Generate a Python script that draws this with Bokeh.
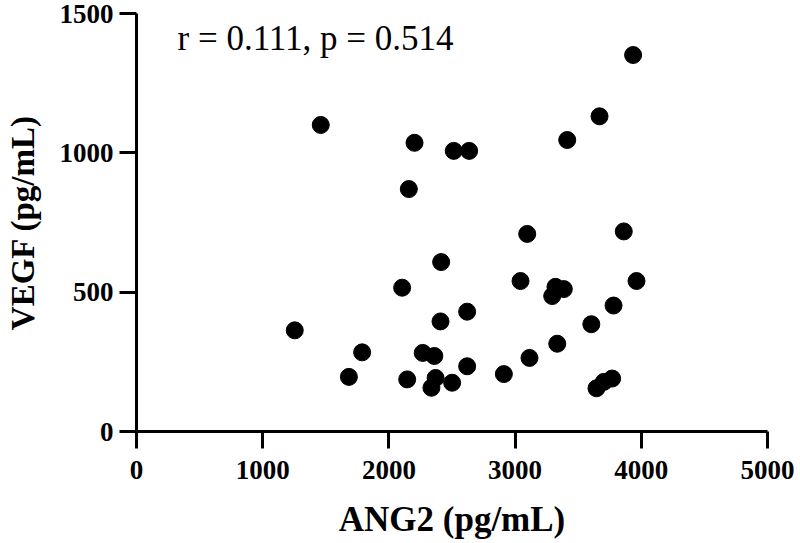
from bokeh.plotting import figure
from bokeh.models import Range1d, Label, FixedTicker, ColumnDataSource
from bokeh.embed import file_html
from bokeh.resources import INLINE

ang2 = [1254, 1460, 1683, 1788, 2105, 2145, 2158, 2203, 2268, 2337, 2360, 2370,
        2409, 2414, 2501, 2514, 2620, 2620, 2636, 2911, 3043, 3096, 3114, 3294,
        3320, 3334, 3386, 3413, 3604, 3645, 3669, 3703, 3769, 3780, 3861, 3935, 3962]
vegf = [363, 1100, 196, 284, 516, 187, 870, 1036, 282, 157, 271, 192,
        395, 608, 175, 1007, 430, 234, 1007, 206, 540, 709, 264, 486,
        519, 315, 511, 1046, 385, 155, 1131, 178, 190, 452, 718, 1351, 540]
x_ticks = [0, 1000, 2000, 3000, 4000, 5000]
y_ticks = [0, 500, 1000, 1500]
annotation = "r = 0.111, p = 0.514"

FONT = "Liberation Serif"

p = figure(width=800, height=543, output_backend="svg", toolbar_location=None,
           x_range=Range1d(0, 5000), y_range=Range1d(0, 1500),
           min_border_left=136, min_border_right=33, min_border_top=13, min_border_bottom=112)
p.outline_line_color = None
p.xgrid.grid_line_color = None
p.ygrid.grid_line_color = None
p.background_fill_color = "white"
p.border_fill_color = "white"

src = ColumnDataSource(dict(x=ang2, y=vegf))
p.scatter("x", "y", source=src, size=17, fill_color="black", line_color="black")

p.xaxis.ticker = FixedTicker(ticks=x_ticks)
p.yaxis.ticker = FixedTicker(ticks=y_ticks)
for ax in (p.xaxis, p.yaxis):
    ax.axis_line_width = 3
    ax.axis_line_color = "black"
    ax.major_tick_line_width = 3
    ax.major_tick_line_color = "black"
    ax.major_tick_out = 17
    ax.major_tick_in = 0
    ax.minor_tick_line_color = None
    ax.major_label_text_font = FONT
    ax.major_label_text_font_style = "bold"
    ax.major_label_text_font_size = "27px"
    ax.major_label_text_color = "black"
    ax.axis_label_text_font = FONT
    ax.axis_label_text_font_style = "bold"
    ax.axis_label_text_color = "black"

p.xaxis.axis_label = "ANG2 (pg/mL)"
p.yaxis.axis_label = "VEGF (pg/mL)"
p.xaxis.axis_label_text_font_size = "35px"
p.yaxis.axis_label_text_font_size = "33px"
p.xaxis.major_label_standoff = 12
p.yaxis.major_label_standoff = 6
p.xaxis.axis_label_standoff = 18
p.yaxis.axis_label_standoff = 16

p.add_layout(Label(x=325, y=1410, text=annotation, text_font=FONT,
                   text_font_size="35px", text_baseline="middle", text_color="black"))

open("out.html", "w").write(file_html(p, INLINE))
